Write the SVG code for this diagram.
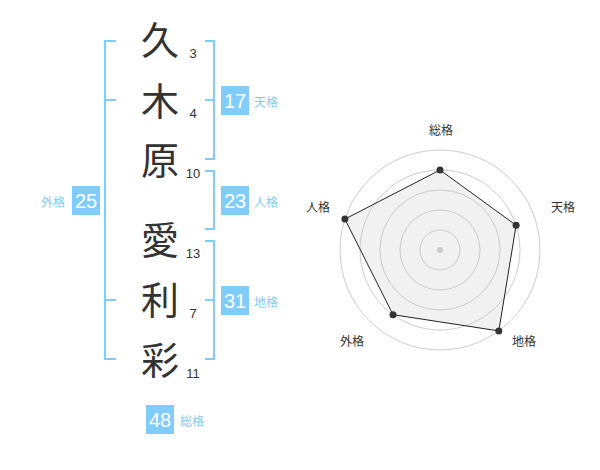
<svg xmlns="http://www.w3.org/2000/svg" width="600" height="470" viewBox="0 0 600 470">
<style>
.k{font-family:"Noto Sans CJK JP","Noto Sans CJK SC",sans-serif;font-size:38px;fill:#333;text-anchor:middle}
.n{font-family:"Liberation Sans",Arial,sans-serif;font-size:13px;fill:#333;text-anchor:middle}
.br{fill:none;stroke:#80cdfc;stroke-width:2}
.bx{fill:#80cdfc}
.bn{font-family:"Liberation Sans",Arial,sans-serif;font-size:20px;fill:#fff;text-anchor:middle}
.bl{font-family:"Noto Sans CJK JP","Noto Sans CJK SC",sans-serif;font-size:12px;fill:#80cdfc}
.rl{font-family:"Noto Sans CJK JP","Noto Sans CJK SC",sans-serif;font-size:12px;fill:#333;text-anchor:middle}
.ring{fill:none;stroke:#ccc;stroke-width:1}
</style>
<rect width="600" height="470" fill="#fff"/>
<g id="chars">
<g id="c1"><text class="k" x="160" y="54">久</text><text class="n" x="193" y="57.5">3</text></g>
<g id="c2"><text class="k" x="160" y="115">木</text><text class="n" x="193" y="117.5">4</text></g>
<g id="c3"><text class="k" x="160" y="174">原</text><text class="n" x="193" y="177.5">10</text></g>
<g id="c4"><text class="k" x="160" y="254">愛</text><text class="n" x="193" y="257.5">13</text></g>
<g id="c5"><text class="k" x="160" y="314">利</text><text class="n" x="193" y="317.5">7</text></g>
<g id="c6"><text class="k" x="160" y="374">彩</text><text class="n" x="193" y="377.5">11</text></g>
</g>
<g id="connectors">
<path class="br" d="M116,41 H105 V359 H116 M105,100 H116 M105,300 H116"/>
<path class="br" d="M205,41 H214 V159 H205 M205,100 H214"/>
<path class="br" d="M205,171 H214 V229 H205"/>
<path class="br" d="M205,241 H214 V359 H205 M205,300 H214"/>
</g>
<g id="tenkaku"><rect class="bx" x="221" y="86" width="28" height="29"/><text class="bn" x="235" y="108">17</text><text class="bl" x="254" y="107">天格</text></g>
<g id="jinkaku"><rect class="bx" x="221" y="186" width="28" height="29"/><text class="bn" x="235" y="208">23</text><text class="bl" x="254" y="207">人格</text></g>
<g id="chikaku"><rect class="bx" x="221" y="286" width="28" height="29"/><text class="bn" x="235" y="308">31</text><text class="bl" x="254" y="307">地格</text></g>
<g id="gaikaku"><rect class="bx" x="72" y="186" width="28" height="29"/><text class="bn" x="86" y="208">25</text><text class="bl" x="41" y="207">外格</text></g>
<g id="soukaku"><rect class="bx" x="146" y="405" width="28" height="29"/><text class="bn" x="160" y="427">48</text><text class="bl" x="180" y="426">総格</text></g>
<g id="radar">
<circle class="ring" cx="440" cy="250" r="20"/>
<circle class="ring" cx="440" cy="250" r="40"/>
<circle class="ring" cx="440" cy="250" r="60"/>
<circle class="ring" cx="440" cy="250" r="80"/>
<circle class="ring" cx="440" cy="250" r="100"/>
<circle cx="440" cy="250" r="3" fill="#ccc"/>
<polygon points="440,170 516.1,225.3 498.8,330.9 393,314.7 344.9,219.1" fill="rgba(200,200,200,0.25)" stroke="#222" stroke-width="1"/>
<g fill="#333">
<circle cx="440" cy="170" r="3.5"/>
<circle cx="516.1" cy="225.3" r="3.5"/>
<circle cx="498.8" cy="330.9" r="3.5"/>
<circle cx="393" cy="314.7" r="3.5"/>
<circle cx="344.9" cy="219.1" r="3.5"/>
</g>
<text class="rl" x="441" y="135">総格</text>
<text class="rl" x="563" y="212">天格</text>
<text class="rl" x="524" y="346">地格</text>
<text class="rl" x="352" y="346">外格</text>
<text class="rl" x="318" y="212">人格</text>
</g>
</svg>
